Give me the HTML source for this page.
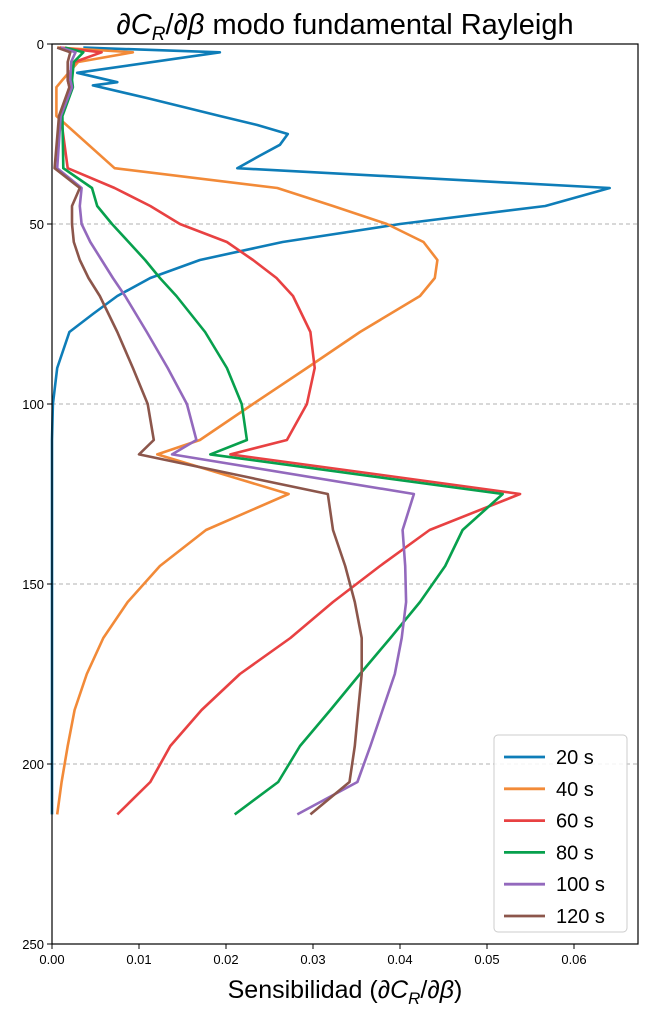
<!DOCTYPE html>
<html><head><meta charset="utf-8"><style>
body{margin:0;background:#fff;}
svg{display:block;font-family:"Liberation Sans","DejaVu Sans",sans-serif;}
</style></head><body>
<svg id="chart" width="649" height="1014" viewBox="0 0 649 1014">
<text x="345" y="34" font-size="29" text-anchor="middle">∂<tspan font-style="italic">C</tspan><tspan font-style="italic" font-size="19" dy="6">R</tspan><tspan dy="-6">/∂</tspan><tspan font-style="italic">β</tspan> modo fundamental Rayleigh</text>
<g id="grid"></g>
<g id="lines"></g>
<rect x="52" y="44" width="586" height="900" fill="none" stroke="#000" stroke-width="1.2"/>
<g id="axes"></g>
<text x="345" y="998" font-size="25" text-anchor="middle">Sensibilidad (∂<tspan font-style="italic">C</tspan><tspan font-style="italic" font-size="17" dy="6">R</tspan><tspan dy="-6">/∂</tspan><tspan font-style="italic">β</tspan>)</text>
<g id="legend"></g>
</svg>
<script>
const depths = [1,2.3,5,10,12,20,34.5,40,45,50,55,60,65,70,80,90,100,110,114,125,135,145,155,165,175,185,195,205,214];
const blueDepths = [1,2.3,8,10.6,11.5,15,17.5,20,22.5,25,28,31,34.5,40,45,50,55,60,65,70,75,80,90,100,110,130,214];
const s20 = [0.0036,0.0193,0.0029,0.0075,0.0047,0.0109,0.0151,0.0193,0.0236,0.0271,0.0262,0.0239,0.0213,0.0641,0.0567,0.0400,0.0265,0.017,0.0113,0.0075,0.0047,0.002,0.0006,0.0001,0.0,0.0,0.0];
const s40 = [0.0006,0.0093,0.003,0.0012,0.0005,0.0005,0.0072,0.0259,0.0323,0.0385,0.0427,0.0443,0.044,0.0423,0.0354,0.0293,0.0231,0.017,0.0121,0.0272,0.0177,0.0124,0.0087,0.0059,0.004,0.0026,0.0018,0.0011,0.0006];
const s60 = [0.0009,0.0057,0.0026,0.0018,0.002,0.001,0.0018,0.0072,0.0113,0.0147,0.0201,0.0231,0.0258,0.0277,0.0297,0.0302,0.0293,0.027,0.0205,0.0538,0.0434,0.0377,0.0323,0.0274,0.0216,0.0172,0.0136,0.0113,0.0075];
const s80 = [0.0015,0.0036,0.0025,0.0023,0.0024,0.0012,0.0013,0.0046,0.0052,0.0069,0.0088,0.0107,0.0124,0.0143,0.0176,0.0201,0.0218,0.0224,0.0182,0.0518,0.0472,0.0452,0.0423,0.0389,0.0354,0.032,0.0285,0.026,0.021];
const s100 = [0.001,0.0027,0.0022,0.0021,0.0023,0.001,0.0006,0.0034,0.0032,0.0034,0.0044,0.0057,0.007,0.0084,0.0109,0.0133,0.0155,0.0166,0.0138,0.0416,0.0403,0.0406,0.0407,0.0402,0.0394,0.038,0.0366,0.0351,0.0282];
const s120 = [0.0006,0.0021,0.0018,0.0018,0.002,0.0008,0.0003,0.0032,0.0023,0.0023,0.0025,0.0032,0.0042,0.0055,0.0075,0.0093,0.011,0.0117,0.01,0.0317,0.0323,0.0337,0.0348,0.0356,0.0356,0.0352,0.0348,0.0342,0.0297];
const seriesLabels = ["20 s","40 s","60 s","80 s","100 s","120 s"];
const xTicks = [0,0.01,0.02,0.03,0.04,0.05,0.06];
const xTickLabels = ["0.00","0.01","0.02","0.03","0.04","0.05","0.06"];
const yTicks = [0,50,100,150,200,250];

const NS="http://www.w3.org/2000/svg";
const X0=52,X1=638,Y0=44,Y1=944,XMAX=(638-52)/8700;
const xs=v=>X0+v/XMAX*(X1-X0);
const ys=d=>Y0+d/250*(Y1-Y0);
function mk(t,a,p){const e=document.createElementNS(NS,t);for(const k in a)e.setAttribute(k,a[k]);p.appendChild(e);return e;}
const grid=document.getElementById('grid'),axes=document.getElementById('axes'),lines=document.getElementById('lines'),legend=document.getElementById('legend');
yTicks.forEach(t=>{
  const y=ys(t);
  if(t>0&&t<250){const g=mk('line',{x1:X0,x2:X1,y1:y,y2:y,stroke:'#b0b0b0','stroke-dasharray':'4,3','stroke-width':1},grid);
  
  }
  const tk=mk('line',{x1:X0-5,x2:X0,y1:y,y2:y,stroke:'#000'},axes);
  
  
  const tx=mk('text',{x:X0-8,y:y+5,'font-size':13,'text-anchor':'end'},axes);tx.textContent=t;
  
  
});
xTicks.forEach((t,i)=>{
  const x=xs(t);
  const tk=mk('line',{x1:x,x2:x,y1:Y1,y2:Y1+5,stroke:'#000'},axes);
  
  
  const tx=mk('text',{x:x,y:Y1+20,'font-size':13,'text-anchor':'middle'},axes);tx.textContent=xTickLabels[i];
  
  
});
const colors=["#0e7db8","#f28a38","#e84142","#07a04d","#9369bd","#8c564b"];
const data=[[blueDepths,s20],[depths,s40],[depths,s60],[depths,s80],[depths,s100],[depths,s120]];
data.forEach((p,i)=>{
  const pts=p[1].map((v,j)=>xs(v).toFixed(1)+','+ys(p[0][j]).toFixed(1)).join(' ');
  const l=mk('polyline',{points:pts,fill:'none',stroke:colors[i],'stroke-width':2.6,'stroke-linejoin':'round'},lines);
  
  
});
const box=mk('rect',{x:494,y:735,width:133,height:197,rx:4,fill:'#fff',stroke:'#ccc','fill-opacity':0.85},legend);


seriesLabels.forEach((s,i)=>{
  const y=757+i*31.8;
  const ln=mk('line',{x1:504,x2:545,y1:y,y2:y,stroke:colors[i],'stroke-width':2.8},legend);
  
  
  const t=mk('text',{x:556,y:y+7,'font-size':20},legend);t.textContent=s;
  
  
});
</script>
</body></html>
